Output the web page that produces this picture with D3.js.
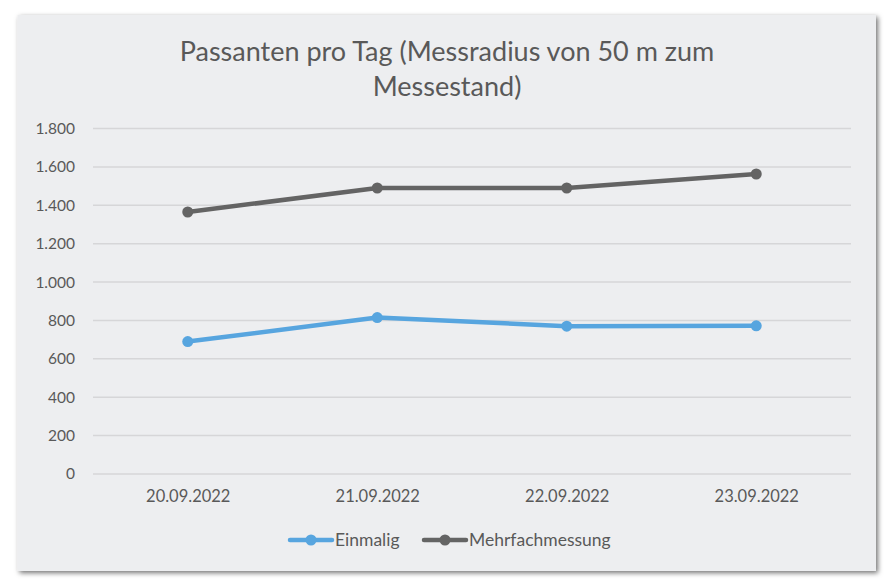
<!DOCTYPE html>
<html>
<head>
<meta charset="utf-8">
<script src="https://cdn.jsdelivr.net/npm/d3@7"></script>
<style>
  body { margin: 0; background: #ffffff; }
  svg { display: block; font-family: Lato, "Open Sans", sans-serif; }
</style>
</head>
<body>
<div id="chart"></div>
<script>
// Chart data
const dates = ['20.09.2022', '21.09.2022', '22.09.2022', '23.09.2022'];
const einmalig = [690, 815, 770, 772];
const mehrfach = [1365, 1490, 1490, 1563];
const yTicks = [0, 200, 400, 600, 800, 1000, 1200, 1400, 1600, 1800];
const titleLines = ['Passanten pro Tag (Messradius von 50 m zum', 'Messestand)'];

const series = [
  { name: 'Einmalig', values: einmalig, color: '#57a5df' },
  { name: 'Mehrfachmessung', values: mehrfach, color: '#646464' }
];

const width = 894, height = 586;
const margin = { left: 93, right: 43, top: 128.5, bottom: 112 };

const svg = d3.select('#chart').append('svg')
  .attr('width', width)
  .attr('height', height);

// Card shadow
const defs = svg.append('defs');
const shadow = defs.append('filter').attr('id', 'shadow')
  .attr('x', '-5%').attr('y', '-5%').attr('width', '110%').attr('height', '110%');
shadow.append('feDropShadow')
  .attr('dx', 2).attr('dy', 2)
  .attr('stdDeviation', 2.5)
  .attr('flood-color', '#000')
  .attr('flood-opacity', 0.55);

svg.append('rect')
  .attr('x', 17.5).attr('y', 15)
  .attr('width', 858.5).attr('height', 556)
  .attr('fill', '#edeef0')
  .attr('filter', 'url(#shadow)');

// Scales
const x = d3.scalePoint()
  .domain(dates)
  .range([margin.left, width - margin.right])
  .padding(0.5);

const y = d3.scaleLinear()
  .domain([0, 1800])
  .range([height - margin.bottom, margin.top]);

// Gridlines
svg.append('g')
  .selectAll('line')
  .data(yTicks)
  .enter().append('line')
  .attr('x1', margin.left)
  .attr('x2', width - margin.right)
  .attr('y1', d => y(d))
  .attr('y2', d => y(d))
  .style('stroke', '#d6d6d8')
  .style('stroke-width', 1.5);

// Y axis
const fmt = d3.formatLocale({ decimal: ',', thousands: '.', grouping: [3], currency: ['', ' €'] }).format(',d');
const yAxis = svg.append('g')
  .attr('transform', `translate(${margin.left},0)`)
  .call(d3.axisLeft(y).tickValues(yTicks).tickFormat(fmt).tickSize(0).tickPadding(18));
yAxis.select('.domain').remove();
yAxis.selectAll('text')
  .style('font-size', '15.5px')
  .style('fill', '#595959')
  .style('font-family', 'Lato, "Open Sans", sans-serif');

// X axis
const xAxis = svg.append('g')
  .attr('transform', `translate(0,${height - margin.bottom})`)
  .call(d3.axisBottom(x).tickSize(0).tickPadding(16));
xAxis.select('.domain').remove();
xAxis.selectAll('text')
  .style('font-size', '16.5px')
  .style('fill', '#595959')
  .style('font-family', 'Lato, "Open Sans", sans-serif');

// Lines
const line = d3.line()
  .x((d, i) => x(dates[i]))
  .y(d => y(d));

series.forEach(s => {
  svg.append('path')
    .datum(s.values)
    .attr('d', line)
    .style('fill', 'none')
    .style('stroke', s.color)
    .style('stroke-width', 4.5)
    .style('stroke-linejoin', 'round');

  svg.append('g')
    .selectAll('circle')
    .data(s.values)
    .enter().append('circle')
    .attr('cx', (d, i) => x(dates[i]))
    .attr('cy', d => y(d))
    .attr('r', 5.5)
    .style('fill', s.color);
});

// Title
svg.append('text')
  .attr('text-anchor', 'middle')
  .style('font-size', '27px')
  .style('fill', '#595959')
  .selectAll('tspan')
  .data(titleLines)
  .enter().append('tspan')
  .attr('x', 447)
  .attr('y', (d, i) => 61 + i * 35)
  .text(d => d);

// Legend
const legendItems = [
  { s: series[0], x: 290 },
  { s: series[1], x: 424 }
];
legendItems.forEach(item => {
  const g = svg.append('g').attr('transform', `translate(${item.x},540)`);
  g.append('line')
    .attr('x1', 0).attr('x2', 42)
    .style('stroke', item.s.color)
    .style('stroke-width', 4.5)
    .style('stroke-linecap', 'round');
  g.append('circle')
    .attr('cx', 21).attr('r', 5.5)
    .style('fill', item.s.color);
  g.append('text')
    .attr('x', 45).attr('dy', '0.35em')
    .style('font-size', '17.5px')
    .style('fill', '#595959')
    .text(item.s.name);
});
</script>
</body>
</html>
